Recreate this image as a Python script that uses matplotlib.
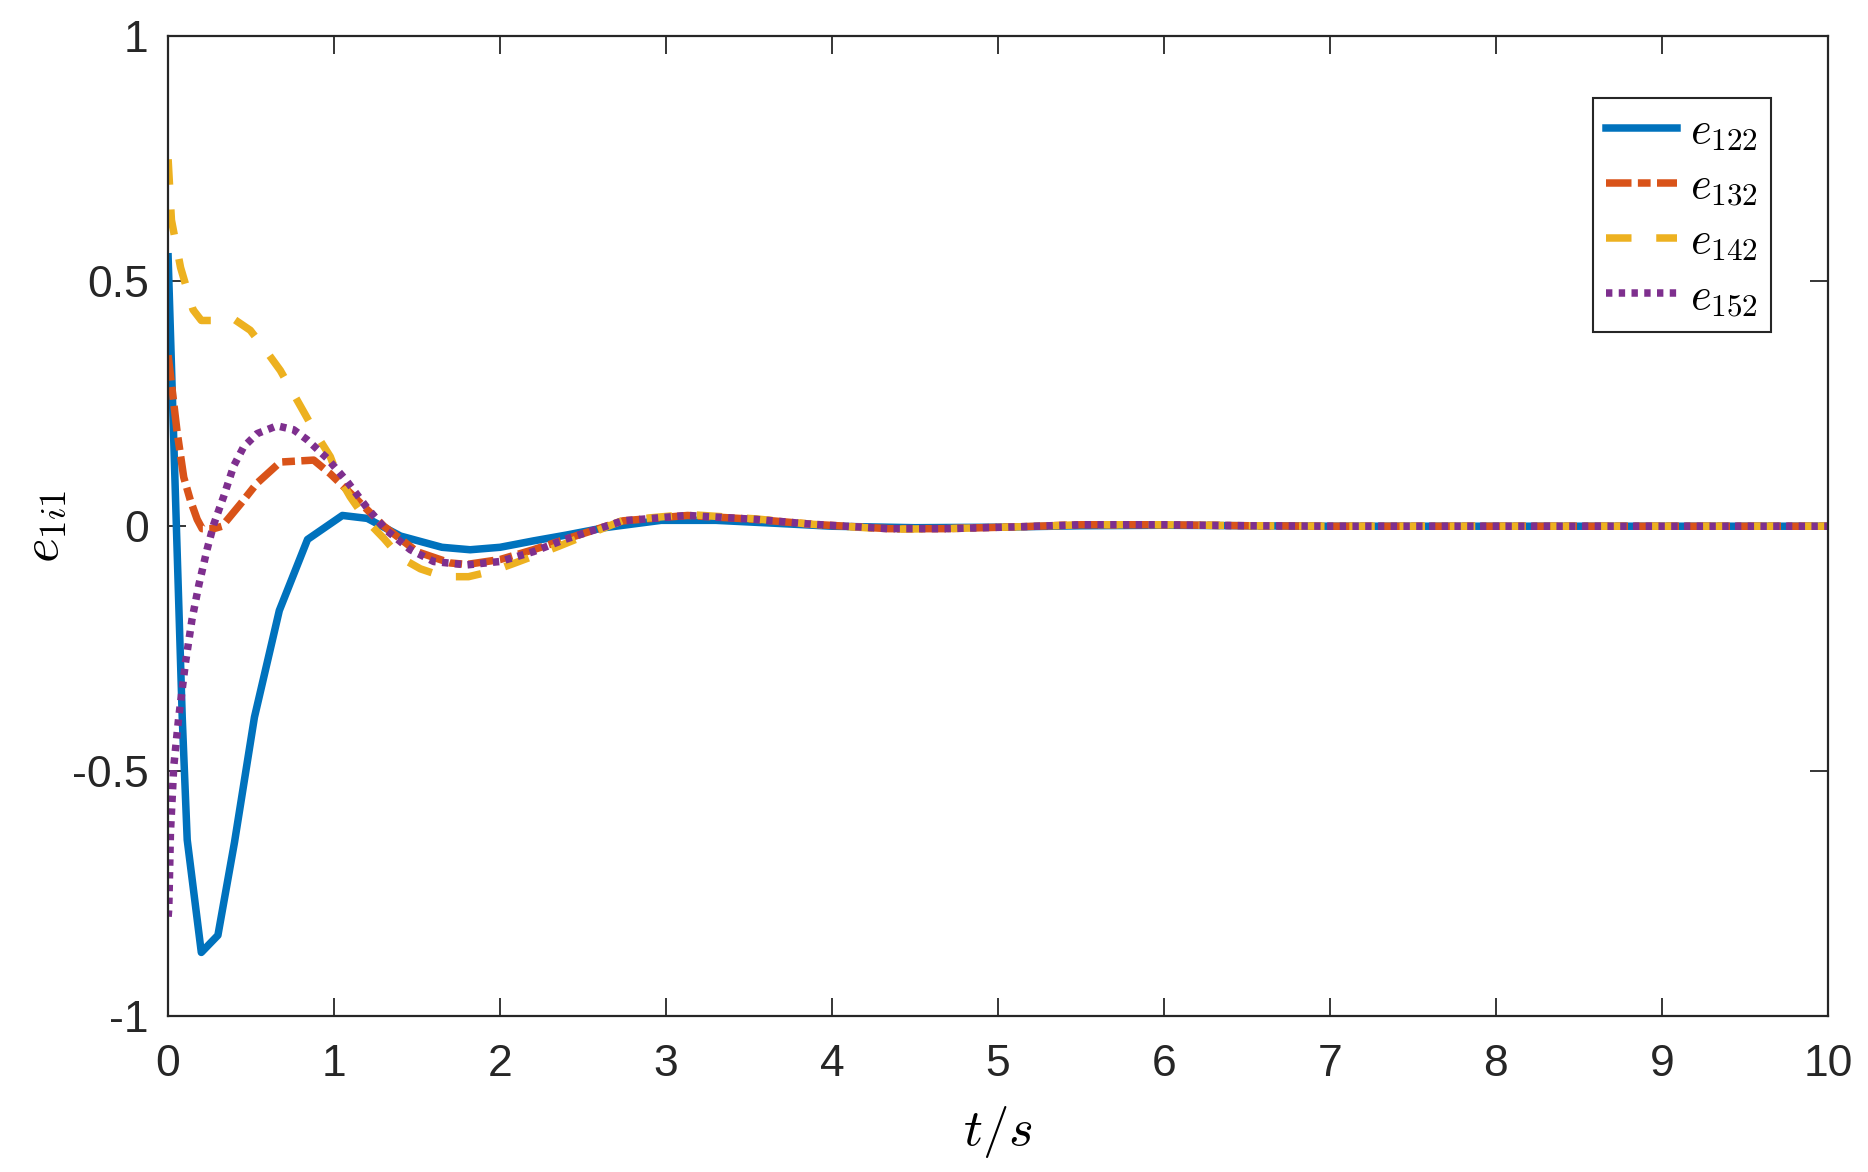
import matplotlib

matplotlib.use("Agg")
import matplotlib.pyplot as plt

plt.rcParams["mathtext.fontset"] = "cm"
plt.rcParams["font.family"] = ["Liberation Sans", "DejaVu Sans"]

# e_122 (solid blue)
t_122 = [0, 0.085, 0.115, 0.2, 0.3, 0.4, 0.52, 0.67, 0.84, 1.05, 1.2, 1.4,
         1.65, 1.82, 2.0, 2.2, 2.4, 2.63, 2.97, 3.3, 3.66, 4.0, 4.5, 5.0,
         5.5, 6.0, 6.5, 7.0, 8.0, 9.0, 10.0]
e_122 = [0.55, -0.39, -0.64, -0.87, -0.835, -0.645, -0.39, -0.172, -0.027,
         0.022, 0.016, -0.02, -0.043, -0.048, -0.043, -0.03, -0.018, -0.003,
         0.012, 0.012, 0.006, 0.0, -0.003, -0.002, 0.001, 0.002, 0.001, 0.0,
         0.0, 0.0, 0.0]

# e_132 (dash-dot orange)
t_132 = [0, 0.054, 0.094, 0.134, 0.175, 0.205, 0.275, 0.325, 0.435, 0.536,
         0.676, 0.877, 0.977, 1.097, 1.3, 1.5, 1.7, 1.8, 2.0, 2.2, 2.39,
         2.74, 3.13, 3.54, 3.88, 4.34, 4.68, 5.14, 5.5, 6.0, 6.5, 7.0, 8.0,
         9.0, 10.0]
e_132 = [0.349, 0.193, 0.10, 0.053, 0.014, -0.005, -0.005, 0.0, 0.045, 0.088,
         0.131, 0.135, 0.107, 0.068, 0.0, -0.052, -0.075, -0.078, -0.068,
         -0.048, -0.027, 0.011, 0.022, 0.014, 0.004, -0.005, -0.005, -0.001,
         0.003, 0.003, 0.001, 0.0, 0.0, 0.0, 0.0]

# e_142 (dashed yellow)
t_142 = [0, 0.02, 0.075, 0.15, 0.2, 0.3, 0.395, 0.495, 0.586, 0.676, 0.756,
         0.826, 0.897, 0.977, 1.017, 1.097, 1.2, 1.3, 1.4, 1.52, 1.66, 1.81,
         1.96, 2.09, 2.24, 2.36, 2.74, 3.13, 3.54, 3.88, 4.34, 4.68, 5.14,
         5.5, 6.0, 6.5, 7.0, 8.0, 9.0, 10.0]
e_142 = [0.749, 0.625, 0.528, 0.442, 0.42, 0.42, 0.423, 0.40, 0.36, 0.318,
         0.27, 0.228, 0.185, 0.142, 0.107, 0.06, 0.01, -0.025, -0.064,
         -0.087, -0.103, -0.103, -0.091, -0.075, -0.056, -0.04, 0.012, 0.024,
         0.015, 0.004, -0.006, -0.005, -0.001, 0.003, 0.003, 0.001, 0.0, 0.0,
         0.0, 0.0]

# e_152 (dotted purple)
t_152 = [0, 0.004, 0.014, 0.034, 0.064, 0.104, 0.144, 0.185, 0.235, 0.275,
         0.335, 0.395, 0.455, 0.536, 0.656, 0.756, 0.836, 0.957, 1.077, 1.2,
         1.318, 1.46, 1.6, 1.8, 2.0, 2.2, 2.39, 2.74, 3.13, 3.54, 3.88, 4.34,
         4.68, 5.14, 5.5, 6.0, 6.5, 7.0, 8.0, 9.0, 10.0]
e_152 = [-0.797, -0.78, -0.625, -0.49, -0.39, -0.28, -0.19, -0.12, -0.047,
         0.004, 0.061, 0.123, 0.162, 0.189, 0.205, 0.197, 0.177, 0.139,
         0.092, 0.037, -0.009, -0.048, -0.072, -0.079, -0.072, -0.052,
         -0.027, 0.011, 0.022, 0.014, 0.004, -0.005, -0.005, -0.001, 0.003,
         0.003, 0.001, 0.0, 0.0, 0.0, 0.0]

fig = plt.figure(figsize=(18.68, 11.72), dpi=100)
ax = fig.add_axes([0.090, 0.133, 0.8885, 0.836])

lw = 5.4
ax.plot(t_122, e_122, color="#0072BD", lw=lw, label=r"$e_{122}$")
ax.plot(t_132, e_132, color="#D95319", lw=lw, dashes=(3.4, 0.85, 1.7, 0.85),
        dash_capstyle="butt", label=r"$e_{132}$")
ax.plot(t_142, e_142, color="#EDB120", lw=lw, dashes=(3.4, 3.3),
        dash_capstyle="butt", label=r"$e_{142}$")
ax.plot(t_152, e_152, color="#7E2F8E", lw=lw, dashes=(0.85, 0.85),
        dash_capstyle="butt", label=r"$e_{152}$")

ax.set_xlim(0, 10)
ax.set_ylim(-1, 1)
ax.set_xticks(range(0, 11))
ax.set_yticks([-1, -0.5, 0, 0.5, 1])
ax.set_yticklabels(["-1", "-0.5", "0", "0.5", "1"])

for s in ax.spines.values():
    s.set_linewidth(1.6)
    s.set_color("#262626")
ax.tick_params(direction="in", length=13, width=1.3, colors="#262626",
               labelsize=32, top=True, right=True, pad=14)
ax.tick_params(axis="x", pad=20)

ax.set_xlabel(r"$t/s$", fontsize=38, labelpad=14)
ax.set_ylabel(r"$e_{1i1}$", fontsize=38, labelpad=2)

leg = ax.legend(loc="upper right", bbox_to_anchor=(0.966, 0.937),
                fontsize=32, handlelength=1.6, handletextpad=0.3,
                labelspacing=0.3, borderpad=0.3, fancybox=False,
                framealpha=1, borderaxespad=0)
leg.get_frame().set_edgecolor("#262626")
leg.get_frame().set_linewidth(1.5)

fig.savefig("out.png", dpi=100)
